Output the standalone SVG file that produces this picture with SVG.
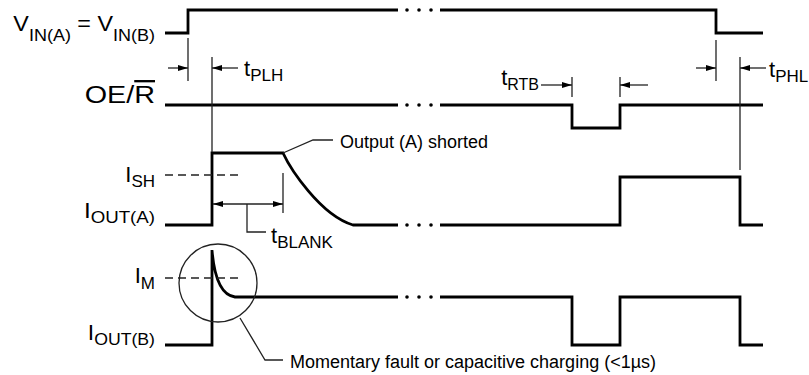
<svg xmlns="http://www.w3.org/2000/svg" width="809" height="375" viewBox="0 0 809 375">
<style>
text{font-family:"Liberation Sans",Arial,sans-serif;fill:#000}
.lbl{font-size:22px;text-anchor:end}
.sub{font-size:17px}
.tl{font-size:22px}
.ts{font-size:17px}
.note{font-size:18px}
.w{fill:none;stroke:#000;stroke-width:2.8}
.th{fill:none;stroke:#222;stroke-width:1.3}
.da{fill:none;stroke:#222;stroke-width:1.3;stroke-dasharray:8 5}
.dot{fill:#000}
</style>
<defs>
<marker id="ah" viewBox="0 0 10 6" refX="10" refY="3" markerWidth="10" markerHeight="6" markerUnits="userSpaceOnUse" orient="auto-start-reverse"><path d="M0,0 L10,3 L0,6 z" fill="#000"/></marker>
</defs>
<g id="labels">
<text class="lbl" transform="translate(155,31) scale(1.06,1)">V<tspan class="sub" dy="10">IN(A)</tspan><tspan dy="-10"> = V</tspan><tspan class="sub" dy="10">IN(B)</tspan></text>
<text class="lbl" transform="translate(155,103) scale(1.25,1)" style="font-size:23px">OE/<tspan text-decoration="overline">R</tspan></text>
<text class="lbl" transform="translate(155,182)">I<tspan class="sub" dy="5">SH</tspan></text>
<text class="lbl" transform="translate(155,218) scale(1.1,1)">I<tspan class="sub" dy="5">OUT(A)</tspan></text>
<text class="lbl" transform="translate(155,283)">I<tspan class="sub" dy="6">M</tspan></text>
<text class="lbl" transform="translate(155,340) scale(1.04,1)">I<tspan class="sub" dy="5">OUT(B)</tspan></text>
</g>
<g id="vin">
<path class="w" d="M165,33 H188 V10 H398 M440,10 H716 V33 H763"/>
<circle class="dot" cx="407" cy="10" r="1.8"/><circle class="dot" cx="419" cy="10" r="1.8"/><circle class="dot" cx="431" cy="10" r="1.8"/>
</g>
<g id="oe">
<path class="w" d="M165,105 H398 M440,105 H572 V128 H620 V105 H763"/>
<circle class="dot" cx="407" cy="105" r="1.8"/><circle class="dot" cx="419" cy="105" r="1.8"/><circle class="dot" cx="431" cy="105" r="1.8"/>
</g>
<g id="iouta">
<path class="w" d="M165,225 H212 V153 H283 C290,168 320,215 353,225 H398 M440,225 H620 V177 H740 V225 H763"/>
<circle class="dot" cx="407" cy="225" r="1.8"/><circle class="dot" cx="419" cy="225" r="1.8"/><circle class="dot" cx="431" cy="225" r="1.8"/>
<path class="da" d="M165,175 H238"/>
</g>
<g id="ioutb">
<path class="w" d="M165,345 H212 V250 C214,275 220,295 235,297 H398 M440,297 H572 V345 H620 V297 H740 V345 H763"/>
<circle class="dot" cx="407" cy="297" r="1.8"/><circle class="dot" cx="419" cy="297" r="1.8"/><circle class="dot" cx="431" cy="297" r="1.8"/>
<path class="da" d="M165,278 H240"/>
</g>
<g id="connectors">
<path class="th" d="M188,38 V81 M212,57 V152 M572,77 V97 M620,77 V97 M716,40 V81 M740,57 V170 M283,173 V213"/>
<path class="th" d="M168,68 H188" marker-end="url(#ah)"/>
<path class="th" d="M238,68 H212" marker-end="url(#ah)"/>
<path class="th" d="M541,85 H572" marker-end="url(#ah)"/>
<path class="th" d="M648,85 H620" marker-end="url(#ah)"/>
<path class="th" d="M696,68 H716" marker-end="url(#ah)"/>
<path class="th" d="M766,68 H740" marker-end="url(#ah)"/>
<path class="th" d="M213,204 H283" marker-start="url(#ah)" marker-end="url(#ah)"/>
<path class="th" d="M247,204 V232 H266"/>
<path class="th" d="M283,153 L313,140 H333"/>
<circle class="th" cx="218" cy="283" r="39"/>
<path class="th" d="M240,318 L265,360 H283"/>
</g>
<g id="annotations">
<text class="tl" x="244" y="76">t<tspan class="ts" dy="5">PLH</tspan></text>
<text class="tl" x="539" y="85" text-anchor="end">t<tspan class="ts" dy="5" style="font-size:16px">RTB</tspan></text>
<text class="tl" x="769" y="77">t<tspan class="ts" dy="5">PHL</tspan></text>
<text class="tl" x="271" y="243">t<tspan class="ts" dy="5">BLANK</tspan></text>
<text class="note" x="340" y="148">Output (A) shorted</text>
<text class="note" x="290" y="368">Momentary fault or capacitive charging (&lt;1µs)</text>
</g>
</svg>
